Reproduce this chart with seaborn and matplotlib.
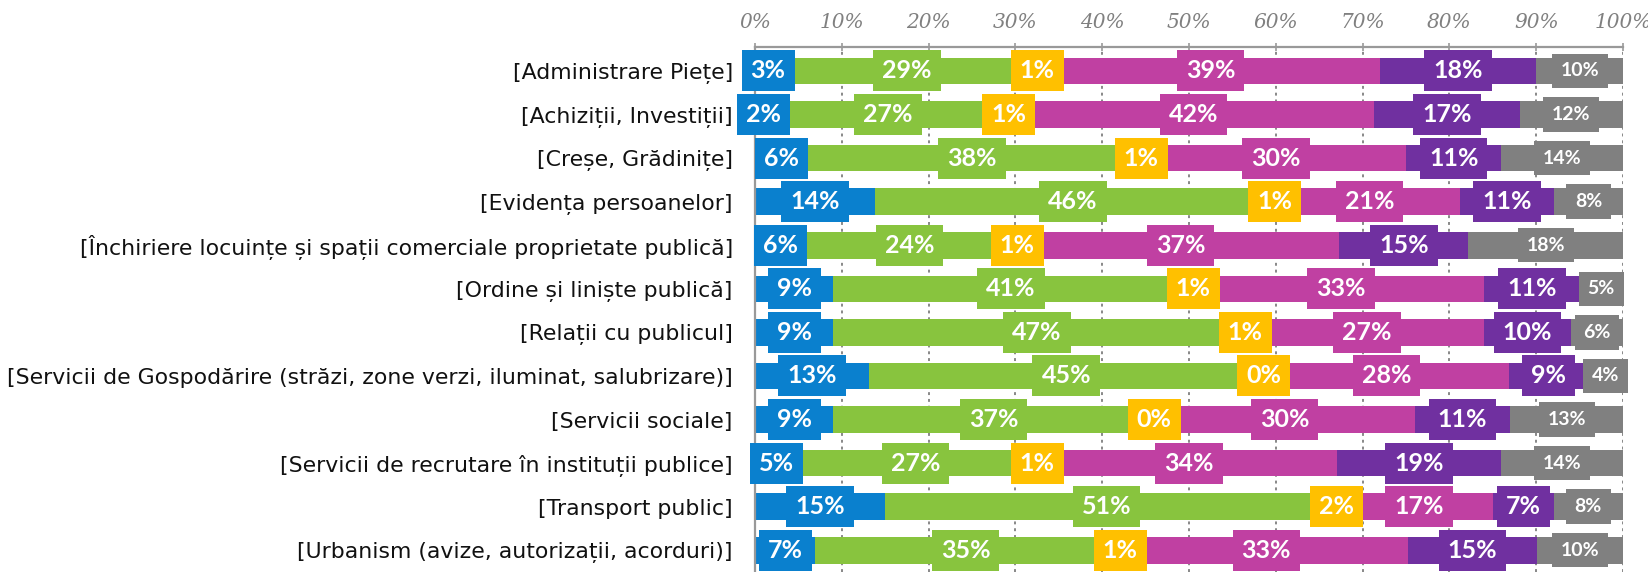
import numpy as np
import pandas as pd
import matplotlib
matplotlib.use("Agg")
import matplotlib.pyplot as plt
import seaborn as sns

categories = [
    "[Administrare Piețe]",
    "[Achiziții, Investiții]",
    "[Creșe, Grădinițe]",
    "[Evidența persoanelor]",
    "[Închiriere locuințe și spații comerciale proprietate publică]",
    "[Ordine și liniște publică]",
    "[Relații cu publicul]",
    "[Servicii de Gospodărire (străzi, zone verzi, iluminat, salubrizare)]",
    "[Servicii sociale]",
    "[Servicii de recrutare în instituții publice]",
    "[Transport public]",
    "[Urbanism (avize, autorizații, acorduri)]",
]
blue = [3, 2, 6, 14, 6, 9, 9, 13, 9, 5, 15, 7]
green = [29, 27, 38, 46, 24, 41, 47, 45, 37, 27, 51, 35]
yellow = [1, 1, 1, 1, 1, 1, 1, 0, 0, 1, 2, 1]
magenta = [39, 42, 30, 21, 37, 33, 27, 28, 30, 34, 17, 33]
purple = [18, 17, 11, 11, 15, 11, 10, 9, 11, 19, 7, 15]
gray = [10, 12, 14, 8, 18, 5, 6, 4, 13, 14, 8, 10]
tick_values = [0, 10, 20, 30, 40, 50, 60, 70, 80, 90, 100]
tick_labels = [f"{t}%" for t in tick_values]

series = [blue, green, yellow, magenta, purple, gray]
colors = ["#0A80CE", "#88C43E", "#FFC000", "#C040A2", "#7030A0", "#808080"]

sns.set_style("white")
plt.rcParams["font.family"] = ["Lato", "DejaVu Sans"]

vals = np.array(series, dtype=float)  # 6 x 12
tot = vals.sum(axis=0)
widths = vals / tot * 100.0
cum = np.cumsum(widths, axis=0)

df = pd.DataFrame({"cat": categories})
for k in range(6):
    df[f"c{k}"] = cum[k]

fig = plt.figure(figsize=(16.49, 5.72), dpi=100)
ax = fig.add_axes([755 / 1649, 0, (1623 - 755) / 1649, 1 - 47 / 572])

for k in reversed(range(6)):
    sns.barplot(data=df, x=f"c{k}", y="cat", color=colors[k], orient="h",
                width=0.61, saturation=1, ax=ax, linewidth=0, zorder=2)

# labels
for i in range(len(categories)):
    for k in range(6):
        left = cum[k, i] - widths[k, i]
        xc = left + widths[k, i] / 2
        fs = 14 if k == 5 else 18
        pad = 0.45 if k == 5 else 0.36
        ax.text(xc, i, f"{int(vals[k, i])}%", ha="center", va="center",
                color="white", fontsize=fs, fontweight="bold", zorder=5,
                bbox=dict(boxstyle=f"square,pad={pad}", fc=colors[k], ec="none"))

ax.set_xlim(0, 100)
ax.set_ylim(11.30, -0.55)
ax.set_xlabel("")
ax.set_ylabel("")
ax.xaxis.tick_top()
ax.set_xticks(tick_values)
ax.set_xticklabels(tick_labels, fontstyle="italic", family="DejaVu Serif",
                   fontsize=14.5, color="#808080")
ax.tick_params(axis="x", direction="inout", length=6, width=1.2,
               color="#999999", pad=8)
ax.set_yticks(range(len(categories)))
ax.set_yticklabels(categories, fontsize=15.8, color="#111111",
                   family="DejaVu Sans")
ax.tick_params(axis="y", length=0, pad=16)
ax.set_yticks(np.arange(-0.5, 12, 1), minor=True)
ax.tick_params(axis="y", which="minor", length=5, width=1.2, color="#999999",
               direction="out")

for x in tick_values[1:]:
    ax.axvline(x, color="#888888", lw=1.4, ls=(0, (1.5, 2)), zorder=1)

for s in ["right", "bottom"]:
    ax.spines[s].set_visible(False)
for s in ["top", "left"]:
    ax.spines[s].set_color("#999999")
    ax.spines[s].set_linewidth(1.6)

fig.savefig("out.png", dpi=100)
